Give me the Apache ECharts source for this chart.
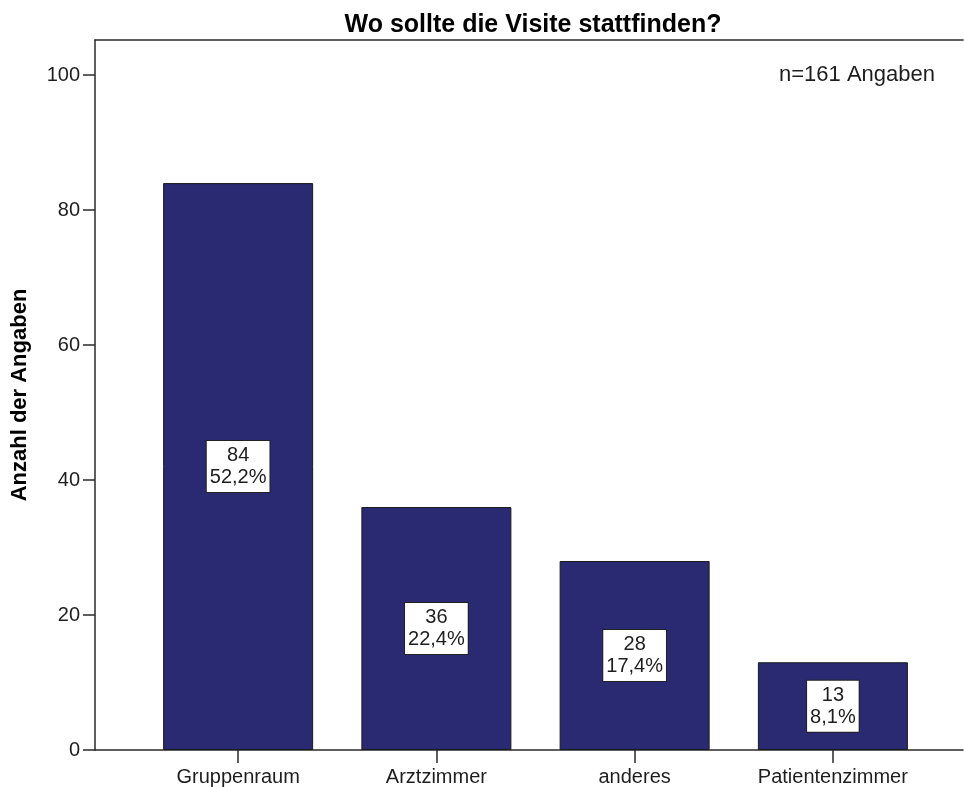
<!DOCTYPE html>
<html>
<head>
<meta charset="utf-8">
<script src="https://cdn.jsdelivr.net/npm/echarts@6/dist/echarts.min.js"></script>
<style>
  html, body { margin: 0; padding: 0; background: #fff; }
  #chart { width: 964px; height: 787px; }
</style>
</head>
<body>
<div id="chart"></div>
<script>
// Antworten auf die Frage nach dem Ort der Visite
const categories = ['Gruppenraum', 'Arztzimmer', 'anderes', 'Patientenzimmer'];
const counts = [84, 36, 28, 13];
const yTicks = [0, 20, 40, 60, 80, 100];
const totalAnswers = 161;

const FONT = '"Liberation Sans", Arial, sans-serif';
const INK = '#1e1e1e';
const RULE = '#2a2a2a';
const Y_MAX = 105.2;

const pct = v => (v / totalAnswers * 100).toFixed(1).replace('.', ',') + '%';

const chart = echarts.init(document.getElementById('chart'), null, { renderer: 'canvas' });

chart.setOption({
  animation: false,
  backgroundColor: '#fff',
  textStyle: { fontFamily: FONT, color: INK },
  title: [
    {
      text: 'Wo sollte die Visite stattfinden?',
      left: 528, top: 8, textAlign: 'center',
      textStyle: { fontFamily: FONT, fontSize: 25, fontWeight: 'bold', color: '#000' }
    },
    {
      text: 'n=' + totalAnswers + ' Angaben',
      left: 774, top: 59,
      textStyle: { fontFamily: FONT, fontSize: 22, fontWeight: 'normal', color: INK }
    }
  ],
  grid: [
    // frame: value axis on the left, bottom and top rules
    { left: 95, right: 1, top: 40, bottom: 37, show: false },
    // bars
    { left: 139, right: 32, top: 40, bottom: 37, show: false }
  ],
  xAxis: [
    {
      gridIndex: 0, type: 'value', min: 0, max: 1, position: 'bottom',
      axisLine: { show: true, onZero: false, lineStyle: { color: RULE, width: 1.5 } },
      axisTick: { show: false }, axisLabel: { show: false }, splitLine: { show: false }
    },
    {
      gridIndex: 0, type: 'value', min: 0, max: 1, position: 'top',
      axisLine: { show: true, onZero: false, lineStyle: { color: RULE, width: 1.5 } },
      axisTick: { show: false }, axisLabel: { show: false }, splitLine: { show: false }
    },
    {
      gridIndex: 1, type: 'category', data: categories, position: 'bottom',
      axisLine: { show: false },
      axisTick: { show: true, alignWithLabel: true, length: 13, lineStyle: { color: RULE, width: 1.5 } },
      axisLabel: { fontFamily: FONT, fontSize: 20, color: INK, margin: 17 },
      splitLine: { show: false }
    }
  ],
  yAxis: [
    {
      gridIndex: 0, type: 'value', min: 0, max: Y_MAX,
      name: 'Anzahl der Angaben', nameLocation: 'middle', nameGap: 64,
      nameTextStyle: { fontFamily: FONT, fontSize: 22, fontWeight: 'bold', color: '#000' },
      axisLine: { show: true, lineStyle: { color: RULE, width: 1.5 } },
      axisTick: { show: true, length: 12, customValues: yTicks, lineStyle: { color: RULE, width: 1.5 } },
      axisLabel: { fontFamily: FONT, fontSize: 20, color: INK, margin: 15, customValues: yTicks },
      splitLine: { show: false }
    },
    {
      gridIndex: 1, type: 'value', min: 0, max: Y_MAX, show: false,
      splitLine: { show: false }
    }
  ],
  series: [
    {
      type: 'bar',
      xAxisIndex: 2, yAxisIndex: 1,
      data: counts,
      barWidth: 150,
      itemStyle: { color: '#292a72', borderColor: '#1a1a1a', borderWidth: 1 },
      label: {
        show: true,
        position: 'inside',
        formatter: p => p.value + '\n' + pct(p.value),
        fontFamily: FONT, fontSize: 20, lineHeight: 22, color: INK,
        backgroundColor: '#fff', borderColor: '#222', borderWidth: 1,
        padding: [4, 3, 3, 3], align: 'center'
      }
    }
  ]
});
</script>
</body>
</html>
